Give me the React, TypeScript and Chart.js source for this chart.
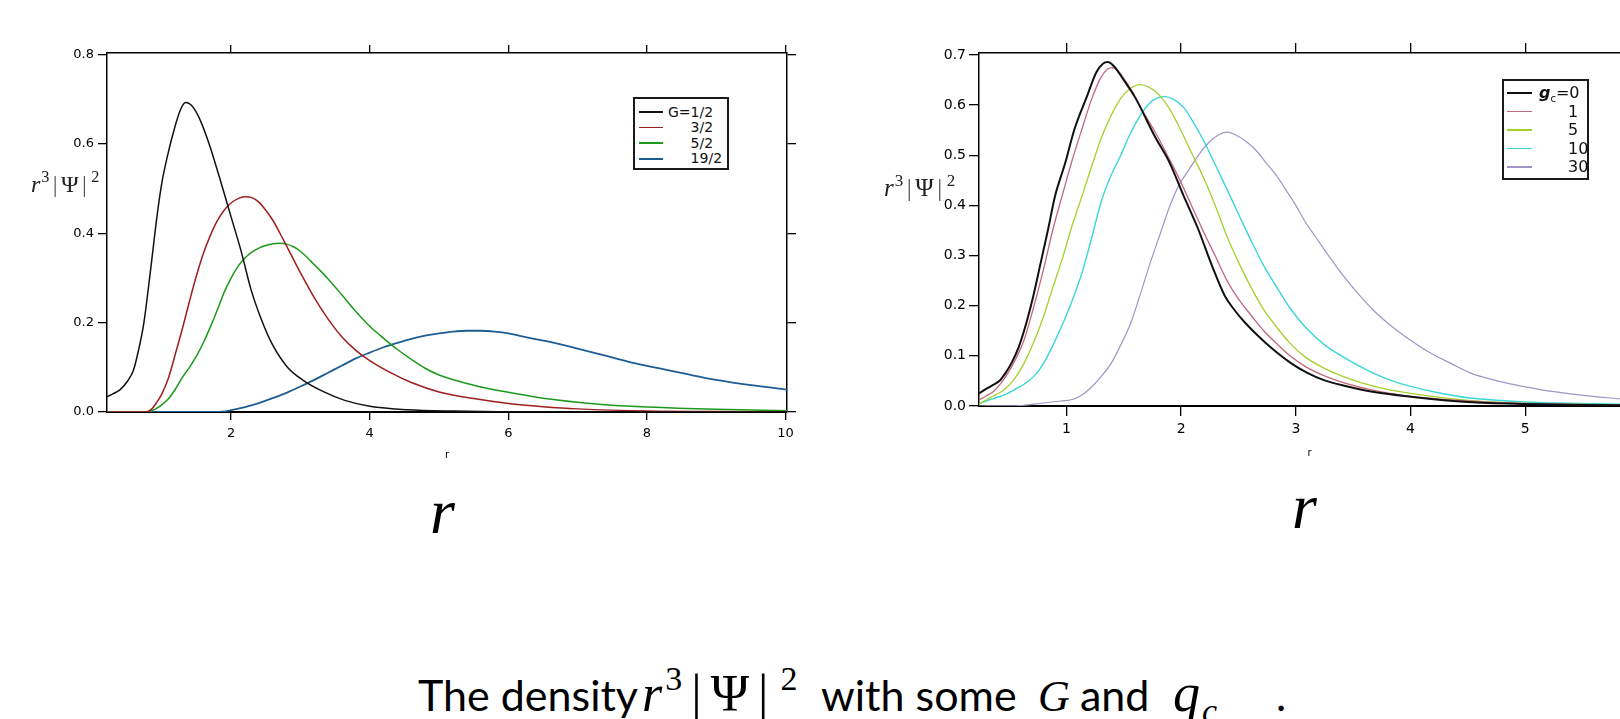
import React, { useEffect, useRef } from "react";
import { Chart, registerables } from "chart.js";

Chart.register(...registerables);

type Pair = [number, number];

// ---------- Left panel: r^3|Psi|^2 for several G ----------
const G_LABELS = ["G=1/2", "3/2", "5/2", "19/2"];
const G_COLORS = ["#111111", "#9e1f1f", "#1d9a1d", "#1e5d94"];

const G_HALF: Pair[] = [
  [0.21, 0.034], [0.3, 0.041], [0.4, 0.05], [0.51, 0.07], [0.59, 0.093], [0.66, 0.135],
  [0.74, 0.198], [0.85, 0.333], [0.93, 0.437], [1.0, 0.512], [1.08, 0.572], [1.19, 0.639],
  [1.27, 0.677], [1.34, 0.693], [1.42, 0.688], [1.53, 0.662], [1.68, 0.602], [1.83, 0.527],
  [2.0, 0.437], [2.14, 0.363], [2.29, 0.273], [2.44, 0.206], [2.59, 0.153], [2.81, 0.101],
  [3.04, 0.071], [3.34, 0.045], [3.64, 0.026], [4.0, 0.013], [4.55, 0.005], [5.2, 0.002],
  [6.5, 0], [10.02, 0],
];
const G_3_2: Pair[] = [
  [0.21, 0], [0.75, 0], [0.85, 0.006], [0.93, 0.022], [1.0, 0.04], [1.1, 0.078], [1.2, 0.132],
  [1.3, 0.188], [1.4, 0.248], [1.5, 0.305], [1.6, 0.355], [1.7, 0.395], [1.8, 0.428],
  [1.9, 0.452], [2.0, 0.468], [2.1, 0.478], [2.2, 0.482], [2.3, 0.48], [2.4, 0.47],
  [2.5, 0.452], [2.6, 0.43], [2.7, 0.402], [2.8, 0.372], [2.9, 0.342], [3.0, 0.312],
  [3.2, 0.256], [3.4, 0.208], [3.6, 0.168], [3.8, 0.138], [4.0, 0.115], [4.3, 0.088],
  [4.6, 0.066], [5.0, 0.045], [5.5, 0.03], [6.0, 0.019], [6.5, 0.012], [7.0, 0.007],
  [8.0, 0.002], [9.0, 0.001], [10.02, 0],
];
const G_5_2: Pair[] = [
  [0.21, 0], [0.8, 0], [0.9, 0.006], [1.0, 0.016], [1.1, 0.03], [1.2, 0.052], [1.3, 0.078],
  [1.4, 0.1], [1.5, 0.125], [1.6, 0.155], [1.7, 0.19], [1.8, 0.228], [1.9, 0.268], [2.0, 0.3],
  [2.1, 0.326], [2.2, 0.345], [2.3, 0.358], [2.4, 0.367], [2.5, 0.373], [2.6, 0.377],
  [2.7, 0.378], [2.8, 0.376], [2.9, 0.37], [3.0, 0.36], [3.2, 0.33], [3.4, 0.298],
  [3.6, 0.262], [3.8, 0.225], [4.0, 0.192], [4.2, 0.165], [4.4, 0.14], [4.6, 0.118],
  [4.8, 0.098], [5.0, 0.083], [5.5, 0.06], [6.0, 0.044], [6.5, 0.031], [7.0, 0.022],
  [7.5, 0.015], [8.0, 0.011], [9.0, 0.006], [10.02, 0.003],
];
const G_19_2: Pair[] = [
  [0.21, 0], [1.8, 0], [2.0, 0.004], [2.2, 0.011], [2.4, 0.02], [2.6, 0.031], [2.8, 0.043],
  [3.0, 0.057], [3.2, 0.072], [3.4, 0.088], [3.6, 0.104], [3.8, 0.12], [4.0, 0.133],
  [4.2, 0.145], [4.4, 0.155], [4.6, 0.164], [4.8, 0.171], [5.0, 0.176], [5.2, 0.18],
  [5.4, 0.182], [5.6, 0.182], [5.8, 0.18], [6.0, 0.176], [6.3, 0.166], [6.6, 0.157],
  [7.0, 0.142], [7.4, 0.126], [7.8, 0.11], [8.2, 0.097], [8.6, 0.084], [9.0, 0.072],
  [9.5, 0.06], [10.02, 0.05],
];
const L_X_TICKS = [2, 4, 6, 8, 10];
const L_Y_TICKS = [0, 0.2, 0.4, 0.6, 0.8];

// ---------- Right panel: r^3|Psi|^2 for several g_c ----------
const GC_LABELS = ["0", "1", "5", "10", "30"];
const GC_COLORS = ["#111111", "#c2687a", "#a4d12c", "#3ad6d6", "#a294c6"];

const GC_0: Pair[] = [
  [0.238, 0.025], [0.3, 0.034], [0.36, 0.042], [0.42, 0.051], [0.47, 0.066], [0.52, 0.085],
  [0.585, 0.118], [0.65, 0.165], [0.71, 0.218], [0.775, 0.285], [0.84, 0.352], [0.9, 0.418],
  [0.99, 0.485], [1.07, 0.552], [1.18, 0.618], [1.26, 0.665], [1.32, 0.683], [1.36, 0.686],
  [1.42, 0.676], [1.5, 0.65], [1.6, 0.615], [1.77, 0.538], [1.9, 0.485], [2.02, 0.42],
  [2.15, 0.352], [2.26, 0.285], [2.38, 0.22], [2.47, 0.19], [2.55, 0.168], [2.67, 0.14],
  [2.79, 0.115], [2.96, 0.085], [3.1, 0.066], [3.25, 0.051], [3.45, 0.039], [3.63, 0.03],
  [4.06, 0.017], [4.5, 0.008], [5.0, 0.004], [5.5, 0.002], [6.0, 0.001],
];
const GC_1: Pair[] = [
  [0.238, 0.012], [0.3, 0.02], [0.37, 0.03], [0.46, 0.055], [0.55, 0.09], [0.63, 0.131],
  [0.7, 0.185], [0.8, 0.272], [0.88, 0.35], [0.97, 0.425], [1.05, 0.49], [1.135, 0.552],
  [1.22, 0.612], [1.3, 0.655], [1.36, 0.672], [1.4, 0.675], [1.45, 0.668], [1.56, 0.632],
  [1.66, 0.59], [1.77, 0.548], [1.88, 0.5], [1.98, 0.455], [2.09, 0.4], [2.19, 0.35],
  [2.3, 0.298], [2.4, 0.25], [2.51, 0.21], [2.62, 0.178], [2.72, 0.15], [2.83, 0.125],
  [2.95, 0.1], [3.08, 0.079], [3.25, 0.06], [3.42, 0.046], [3.7, 0.03], [4.0, 0.019],
  [4.5, 0.01], [5.0, 0.005], [5.5, 0.003], [6.0, 0.001],
];
const GC_5: Pair[] = [
  [0.238, 0.004], [0.3, 0.012], [0.38, 0.022], [0.46, 0.033], [0.55, 0.055], [0.63, 0.085],
  [0.72, 0.13], [0.8, 0.178], [0.88, 0.235], [0.97, 0.298], [1.05, 0.36], [1.135, 0.418],
  [1.22, 0.478], [1.3, 0.532], [1.38, 0.575], [1.47, 0.612], [1.55, 0.632], [1.64, 0.641],
  [1.72, 0.636], [1.81, 0.62], [1.9, 0.592], [1.98, 0.558], [2.08, 0.51], [2.19, 0.458],
  [2.3, 0.398], [2.4, 0.338], [2.51, 0.282], [2.62, 0.232], [2.72, 0.192], [2.83, 0.158],
  [2.95, 0.125], [3.08, 0.098], [3.25, 0.075], [3.42, 0.058], [3.7, 0.038], [4.0, 0.025],
  [4.5, 0.011], [5.0, 0.005], [5.5, 0.003], [6.0, 0.001],
];
const GC_10: Pair[] = [
  [0.238, 0.004], [0.3, 0.01], [0.38, 0.016], [0.46, 0.022], [0.56, 0.034], [0.67, 0.05],
  [0.74, 0.065], [0.8, 0.085], [0.88, 0.12], [0.97, 0.165], [1.05, 0.21], [1.135, 0.265],
  [1.22, 0.335], [1.3, 0.405], [1.38, 0.455], [1.47, 0.498], [1.55, 0.54], [1.64, 0.578],
  [1.72, 0.603], [1.8, 0.615], [1.86, 0.617], [1.93, 0.612], [2.02, 0.596], [2.1, 0.568],
  [2.19, 0.532], [2.3, 0.48], [2.4, 0.432], [2.51, 0.378], [2.62, 0.325], [2.72, 0.28],
  [2.83, 0.238], [2.95, 0.195], [3.08, 0.158], [3.25, 0.122], [3.42, 0.097], [3.55, 0.08],
  [3.68, 0.065], [3.84, 0.05], [4.0, 0.039], [4.25, 0.026], [4.52, 0.016], [5.0, 0.008],
  [5.5, 0.005], [6.0, 0.003],
];
const GC_30: Pair[] = [
  [0.238, 0], [0.6, 0.001], [0.8, 0.006], [0.95, 0.01], [1.05, 0.013], [1.12, 0.02],
  [1.22, 0.038], [1.3, 0.058], [1.39, 0.085], [1.47, 0.12], [1.56, 0.165], [1.64, 0.22],
  [1.73, 0.285], [1.82, 0.345], [1.9, 0.398], [1.98, 0.44], [2.07, 0.472], [2.15, 0.5],
  [2.24, 0.525], [2.32, 0.54], [2.4, 0.546], [2.48, 0.54], [2.57, 0.527], [2.66, 0.508],
  [2.74, 0.485], [2.83, 0.46], [2.91, 0.432], [3.0, 0.4], [3.08, 0.368], [3.17, 0.338],
  [3.3, 0.295], [3.42, 0.258], [3.55, 0.222], [3.68, 0.19], [3.84, 0.158], [4.0, 0.131],
  [4.17, 0.106], [4.35, 0.085], [4.52, 0.066], [4.69, 0.054], [4.85, 0.045], [5.0, 0.038],
  [5.17, 0.031], [5.33, 0.026], [5.55, 0.02], [5.79, 0.015], [6.0, 0.011],
];
const R_X_TICKS = [1, 2, 3, 4, 5, 6];
const R_Y_TICKS = [0, 0.1, 0.2, 0.3, 0.4, 0.5, 0.6, 0.7];

type Spec = {
  left: number; top: number; w: number; h: number;
  series: Pair[][]; colors: string[]; widths: number[];
  xMin: number; xMax: number; yMax: number;
  xTicks: number[]; yTicks: number[];
  leftW: number; rightW: number; topH: number; bottomH: number;
  font: number; xTl: number; xPad: number; yTl: number; yPad: number; titlePad: number;
};

const LEFT_SPEC: Spec = {
  left: 0, top: 0, w: 822, h: 480,
  series: [G_HALF, G_3_2, G_5_2, G_19_2], colors: G_COLORS, widths: [1.5, 1.5, 1.5, 1.8],
  xMin: 0.21, xMax: 10.02, yMax: 0.804, xTicks: L_X_TICKS, yTicks: L_Y_TICKS,
  leftW: 107, rightW: 35, topH: 53, bottomH: 68,
  font: 13, xTl: 8, xPad: 6, yTl: 9, yPad: 4, titlePad: 19,
};
const RIGHT_SPEC: Spec = {
  left: 860, top: 0, w: 800, h: 480,
  series: [GC_0, GC_1, GC_5, GC_10, GC_30], colors: GC_COLORS, widths: [2, 1.3, 1.3, 1.4, 1.2],
  xMin: 0.238, xMax: 6.0, yMax: 0.704, xTicks: R_X_TICKS, yTicks: R_Y_TICKS,
  leftW: 119, rightW: 20, topH: 53, bottomH: 74,
  font: 14, xTl: 10, xPad: 5, yTl: 10, yPad: 3, titlePad: 21,
};

function gridOpts(tl: number) {
  return { display: true, drawOnChartArea: false, drawTicks: true, tickLength: tl, color: "#000", lineWidth: 1.3 };
}

function buildConfig(s: Spec): any {
  const tickFont = { family: "'DejaVu Sans', sans-serif", size: s.font };
  const setX = (sc: any) => { sc.ticks = s.xTicks.map((v) => ({ value: v })); };
  const setY = (sc: any) => { sc.ticks = s.yTicks.map((v) => ({ value: v })); };
  return {
    type: "line",
    data: {
      datasets: s.series.map((pts, i) => ({
        data: pts.map(([x, y]) => ({ x, y })),
        borderColor: s.colors[i],
        borderWidth: s.widths[i],
        pointRadius: 0,
        fill: false,
        cubicInterpolationMode: "monotone",
        xAxisID: "x",
        yAxisID: "y",
      })),
    },
    options: {
      animation: false,
      responsive: false,
      devicePixelRatio: 1,
      layout: { padding: 0 },
      plugins: { legend: { display: false }, tooltip: { enabled: false } },
      scales: {
        x: {
          type: "linear", position: "bottom", min: s.xMin, max: s.xMax,
          afterBuildTicks: setX, afterFit: (sc: any) => { sc.height = s.bottomH; },
          grid: gridOpts(s.xTl), border: { display: true, color: "#000", width: 2 },
          ticks: { color: "#000", font: tickFont, padding: s.xPad, autoSkip: false, maxRotation: 0, callback: (v: any) => String(v) },
          title: { display: true, text: "r", color: "#000", font: { family: "'DejaVu Sans', sans-serif", size: 10 }, padding: { top: 0, bottom: s.titlePad } },
        },
        x2: {
          type: "linear", position: "top", min: s.xMin, max: s.xMax,
          afterBuildTicks: setX, afterFit: (sc: any) => { sc.height = s.topH; },
          grid: gridOpts(s.xTl), border: { display: true, color: "#000", width: 1.5 },
          ticks: { display: false },
        },
        y: {
          type: "linear", position: "left", min: 0, max: s.yMax,
          afterBuildTicks: setY, afterFit: (sc: any) => { sc.width = s.leftW; },
          grid: gridOpts(s.yTl), border: { display: true, color: "#000", width: 1.5 },
          ticks: { color: "#000", font: tickFont, padding: s.yPad, callback: (v: any) => Number(v).toFixed(1) },
        },
        y2: {
          type: "linear", position: "right", min: 0, max: s.yMax,
          afterBuildTicks: setY, afterFit: (sc: any) => { sc.width = s.rightW; },
          grid: gridOpts(s.yTl), border: { display: true, color: "#000", width: 1.5 },
          ticks: { display: false },
        },
      },
    },
  };
}

function Plot({ spec }: { spec: Spec }) {
  const ref = useRef<HTMLCanvasElement>(null);
  useEffect(() => {
    const chart = new Chart(ref.current as HTMLCanvasElement, buildConfig(spec));
    return () => chart.destroy();
  }, [spec]);
  return (
    <canvas
      ref={ref}
      width={spec.w}
      height={spec.h}
      style={{ position: "absolute", left: spec.left, top: spec.top, width: spec.w, height: spec.h }}
    />
  );
}

const serif = "'Liberation Serif', 'DejaVu Serif', serif";
const sans = "'DejaVu Sans', sans-serif";

function PsiLabel({ left, top, size }: { left: number; top: number; size: number }) {
  const sup = { fontSize: size * 0.68, position: "relative" as const, top: -size * 0.42, marginLeft: 1 };
  const bar = { color: "#555", margin: `0 ${size * 0.14}px` };
  return (
    <div style={{ position: "absolute", left, top, fontFamily: serif, fontSize: size, lineHeight: 1, whiteSpace: "nowrap", color: "#222" }}>
      <i>r</i>
      <span style={sup}>3</span>
      <span style={bar}>|</span>Ψ<span style={bar}>|</span>
      <span style={sup}>2</span>
    </div>
  );
}

function Legend({
  box, labels, colors, widths, rowY, lineX, textX, prefix, first, font,
}: {
  box: { left: number; top: number; w: number; h: number };
  labels: string[]; colors: string[]; widths: number[]; rowY: (i: number) => number;
  lineX: [number, number]; textX: number; prefix: React.ReactNode; first: React.ReactNode; font: number;
}) {
  return (
    <div style={{ position: "absolute", left: box.left, top: box.top, width: box.w, height: box.h, border: "2px solid #1a1a1a", boxSizing: "border-box", background: "#fff" }}>
      {labels.map((lab, i) => (
        <React.Fragment key={i}>
          <div style={{ position: "absolute", left: lineX[0] - box.left - 2, top: rowY(i) - box.top - 2 - widths[i] / 2, width: lineX[1] - lineX[0], height: widths[i], background: colors[i] }} />
          <div style={{ position: "absolute", left: textX - box.left - 2, top: rowY(i) - box.top - 2 - font * 0.6, fontFamily: sans, fontSize: font, lineHeight: `${font * 1.2}px`, whiteSpace: "nowrap", color: "#111" }}>
            {i === 0 ? first : <span style={{ visibility: "hidden" }}>{prefix}</span>}
            {lab}
          </div>
        </React.Fragment>
      ))}
    </div>
  );
}

export default function App() {
  const cap = { display: "inline-block", whiteSpace: "nowrap" as const };
  const mathSup = { fontSize: 34, position: "relative" as const, top: -21, marginLeft: 3 };
  const mathBar = { margin: "0 9px" };
  return (
    <div style={{ position: "fixed", left: 0, top: 0, width: 1620, height: 719, overflow: "hidden", background: "#fff" }}>
      <Plot spec={LEFT_SPEC} />
      <Plot spec={RIGHT_SPEC} />

      <PsiLabel left={31} top={172} size={24} />
      <PsiLabel left={884} top={175} size={25} />

      <Legend
        box={{ left: 633, top: 97, w: 96, h: 73 }}
        labels={G_LABELS.map((l, i) => (i === 0 ? l.slice(2) : l))}
        colors={G_COLORS} widths={[1.8, 1.6, 1.6, 2]}
        rowY={(i) => 112 + i * 15.5} lineX={[639, 663]} textX={668}
        prefix={"G="} first={"G="} font={14}
      />
      <Legend
        box={{ left: 1502, top: 79, w: 87, h: 101 }}
        labels={GC_LABELS}
        colors={GC_COLORS} widths={[2, 1.4, 1.6, 1.8, 1.4]}
        rowY={(i) => 93 + i * 18.5} lineX={[1507, 1532]} textX={1539}
        prefix={<span><i>g</i><sub style={{ fontSize: 10 }}>c</sub>=</span>}
        first={<span><b><i>g</i></b><sub style={{ fontSize: 10 }}>c</sub>=</span>} font={16}
      />

      <div style={{ position: "absolute", left: 430, top: 480, fontFamily: serif, fontStyle: "italic", fontSize: 64, lineHeight: "64px" }}>r</div>
      <div style={{ position: "absolute", left: 1292, top: 475, fontFamily: serif, fontStyle: "italic", fontSize: 64, lineHeight: "64px" }}>r</div>

      <div style={{ position: "absolute", left: 418, top: 668, fontFamily: "Lato, 'Open Sans', sans-serif", fontSize: 43, lineHeight: "50px", whiteSpace: "nowrap", color: "#000" }}>
        <span style={{ ...cap, width: 224 }}>The density</span>
        <span style={{ ...cap, width: 179, fontFamily: serif, fontSize: 52, lineHeight: "50px" }}>
          <i>r</i>
          <span style={mathSup}>3</span>
          <span style={mathBar}>|</span>Ψ<span style={mathBar}>|</span>
          <span style={mathSup}>2</span>
        </span>
        <span style={{ ...cap, width: 217 }}>with some</span>
        <span style={{ ...cap, width: 42, fontFamily: serif, fontStyle: "italic", fontSize: 44, lineHeight: "50px" }}>G</span>
        <span style={{ ...cap, width: 93 }}>and</span>
        <span style={{ ...cap, width: 103, fontFamily: serif, fontSize: 54, lineHeight: "50px" }}>
          <i>q</i><i style={{ fontSize: 34, position: "relative", top: 11, marginLeft: 2 }}>c</i>
        </span>
        <span style={cap}>.</span>
      </div>
    </div>
  );
}
